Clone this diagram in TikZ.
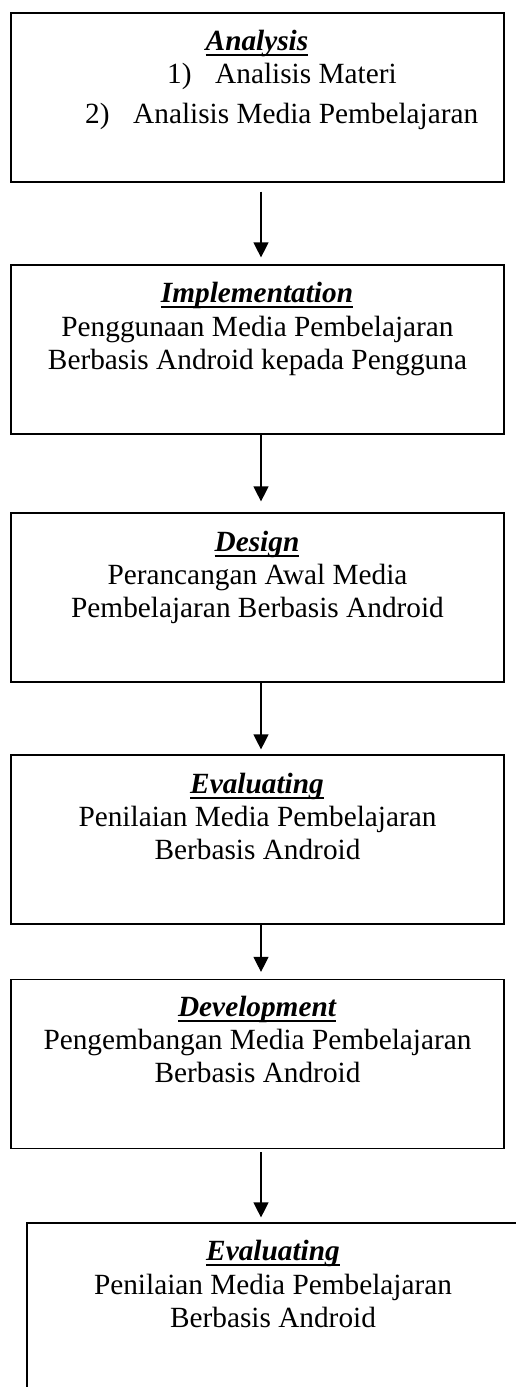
\documentclass[tikz,border=0pt]{standalone}
\usepackage{fontspec}
\setmainfont{Liberation Serif}
\usetikzlibrary{arrows.meta}
\newcommand{\myul}[1]{\setbox0\hbox{#1}\rlap{\rule[-5.5pt]{\wd0}{1.4pt}}\box0}
\tikzset{
  box/.style={draw=black, line width=1.2pt, minimum width=493pt, minimum height=169pt, inner sep=0pt},
  ttl/.style={anchor=base, inner sep=0pt, font=\fontsize{29.3}{33}\selectfont\bfseries\itshape},
  txt/.style={anchor=base, inner sep=0pt, font=\fontsize{29.3}{33}\selectfont},
  txtw/.style={anchor=base west, inner sep=0pt, font=\fontsize{29.3}{33}\selectfont},
  arr/.style={draw=black, line width=1.2pt, -{Triangle[length=15pt,width=15pt]}}
}
\begin{document}
\begin{tikzpicture}[x=1pt,y=-1pt]
\clip (0,0) rectangle (516,1387);
\fill[white] (0,0) rectangle (516,1387);
% boxes
\node[box] (b1) at (257.5,97.5) {};
\node[box] (b2) at (257.5,349.5) {};
\node[box] (b3) at (257.5,597.5) {};
\node[box] (b4) at (257.5,839.5) {};
\node[box] (b5) at (257.5,1064) {};
\node[box] (b6) at (273.5,1307.5) {};
% box 1 text
\node[ttl] (t1) at (257,50) {\myul{Analysis}};
\node[txtw] (l1n) at (167,83) {1)};
\node[txtw] (l1a) at (215,83) {Analisis Materi};
\node[txtw] (l2n) at (85,123) {2)};
\node[txtw] (l2a) at (133,123) {Analisis Media Pembelajaran};
% box 2 text
\node[ttl] (t2) at (257,302) {\myul{Implementation}};
\node[txt] (t2a) at (257.5,336) {Penggunaan Media Pembelajaran};
\node[txt] (t2b) at (257.5,369) {Berbasis Android kepada Pengguna};
% box 3 text
\node[ttl] (t3) at (257,551) {\myul{Design}};
\node[txt] (t3a) at (257.5,584) {Perancangan Awal Media};
\node[txt] (t3b) at (257.5,617) {Pembelajaran Berbasis Android};
% box 4 text
\node[ttl] (t4) at (257,793) {\myul{Evaluating}};
\node[txt] (t4a) at (257.5,826) {Penilaian Media Pembelajaran};
\node[txt] (t4b) at (257.5,859) {Berbasis Android};
% box 5 text
\node[ttl] (t5) at (257,1016) {\myul{Development}};
\node[txt] (t5a) at (257.5,1049) {Pengembangan Media Pembelajaran};
\node[txt] (t5b) at (257.5,1082) {Berbasis Android};
% box 6 text
\node[ttl] (t6) at (273,1260) {\myul{Evaluating}};
\node[txt] (t6a) at (273,1294) {Penilaian Media Pembelajaran};
\node[txt] (t6b) at (273,1327) {Berbasis Android};
% arrows
\draw[arr, shorten <=9pt, shorten >=7pt] (b1.south -| 261,0) -- (b2.north -| 261,0);
\draw[arr, shorten >=11pt] (b2.south -| 261,0) -- (b3.north -| 261,0);
\draw[arr, shorten >=5pt] (b3.south -| 261,0) -- (b4.north -| 261,0);
\draw[arr, shorten >=7pt] (b4.south -| 261,0) -- (b5.north -| 261,0);
\draw[arr, shorten <=3pt, shorten >=5pt] (b5.south -| 261,0) -- (b6.north -| 261,0);
\end{tikzpicture}
\end{document}
